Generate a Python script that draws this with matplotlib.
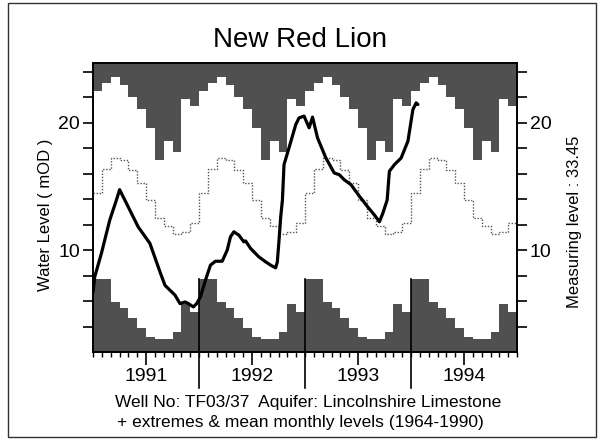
import numpy as np
import matplotlib
matplotlib.use('Agg')
import matplotlib.pyplot as plt
from matplotlib.transforms import blended_transform_factory
from matplotlib.patches import Rectangle

plt.rcParams['font.family'] = ['Liberation Sans', 'DejaVu Sans']

# ---- data ----
years = [1991, 1992, 1993, 1994]
year_labels = ['1991', '1992', '1993', '1994']
# climatology 1964-1990 (Jan..Dec)
month_max = [22.5, 23.1, 23.6, 23.0, 22.0, 21.1, 19.6, 17.05, 18.55, 17.7, 21.85, 21.35]
month_min = [7.7, 7.7, 5.9, 5.45, 4.7, 3.85, 3.2, 3.0, 3.0, 3.55, 5.8, 5.15]
month_mean = [14.5, 16.4, 17.2, 17.1, 16.3, 15.3, 13.9, 12.5, 11.9, 11.3, 11.4, 12.1]
# observed water level (decimal year, mOD)
level_t = [1991.000, 1991.016, 1991.079, 1991.158, 1991.221, 1991.251, 1991.300, 1991.426,
           1991.537, 1991.632, 1991.679, 1991.774, 1991.821, 1991.868, 1991.900, 1991.947,
           1991.978, 1992.013, 1992.061, 1992.108, 1992.155, 1992.219, 1992.266, 1992.297,
           1992.329, 1992.376, 1992.423, 1992.439, 1992.487, 1992.565, 1992.629, 1992.676,
           1992.723, 1992.739, 1992.755, 1992.771, 1992.787, 1992.802, 1992.849, 1992.913,
           1992.944, 1992.991, 1993.039, 1993.071, 1993.118, 1993.197, 1993.276, 1993.323,
           1993.370, 1993.434, 1993.512, 1993.592, 1993.655, 1993.702, 1993.734, 1993.775,
           1993.796, 1993.844, 1993.907, 1993.971, 1994.018, 1994.049, 1994.065]
level_v = [6.69, 7.90, 9.74, 12.36, 13.94, 14.75, 13.94, 11.83,
           10.53, 8.29, 7.24, 6.46, 5.80, 5.93, 5.80, 5.54,
           5.80, 6.32, 7.64, 8.82, 9.13, 9.13, 10.00, 11.05,
           11.44, 11.18, 10.65, 10.73, 10.13, 9.47, 9.08, 8.82,
           8.61, 9.08, 10.79, 12.62, 13.94, 16.72, 18.03, 19.87,
           20.39, 20.53, 19.61, 20.45, 18.82, 17.24, 16.06, 15.93,
           15.53, 15.14, 14.25, 13.39, 12.76, 12.23, 12.89, 13.94,
           16.20, 16.72, 17.24, 18.56, 21.05, 21.57, 21.44]

YMIN, YMAX = 2.0, 24.7
W, H = 603, 440

fig = plt.figure(figsize=(W / 100, H / 100), dpi=100)
ax = fig.add_axes([93 / W, 1 - 352 / H, (517 - 93) / W, (352 - 63) / H])

nyears = len(years)
edges = years[0] + np.arange(12 * nyears + 1) / 12.0
mx = np.tile(month_max, nyears)
mn = np.tile(month_min, nyears)
me = np.tile(month_mean, nyears)
mx = np.append(mx, mx[-1])
mn = np.append(mn, mn[-1])
me = np.append(me, me[-1])

shade = '#505050'
ax.fill_between(edges, mx, YMAX + 5, step='post', color=shade, lw=0)
ax.fill_between(edges, YMIN - 5, mn, step='post', color=shade, lw=0)
ax.step(edges, me, where='post', color='#555555', lw=1.0, linestyle=(0, (1, 1.2)))
ax.plot(level_t, level_v, color='black', lw=2.3, solid_joinstyle='round', solid_capstyle='round')

ax.set_xlim(years[0], years[-1] + 1)
ax.set_ylim(YMIN, YMAX)

# year separators
trans = blended_transform_factory(ax.transData, ax.transAxes)
for yr in years[1:]:
    ax.plot([yr, yr], [-0.125, (month_min[0] - YMIN) / (YMAX - YMIN)], transform=trans,
            clip_on=False, color='black', lw=1.2)

# x ticks
ax.set_xticks([y + 0.5 for y in years])
ax.set_xticklabels(year_labels, fontsize=14)
ax.set_xticks(edges, minor=True)
ax.tick_params(axis='x', which='major', length=9.5, width=1.2, pad=2, direction='out')
ax.tick_params(axis='x', which='minor', length=3.8, width=1.0, direction='out')

# y ticks
ax.set_yticks([10, 20])
ax.set_yticks(np.arange(4, 25, 2), minor=True)
ax.tick_params(axis='y', which='both', length=7.2, width=1.2, direction='out',
               left=True, right=True, labelleft=True, labelright=True, labelsize=14, pad=2)

for s in ax.spines.values():
    s.set_linewidth(1.4)

fig.text(300 / W, 1 - 40 / H, 'New Red Lion', ha='center', va='center', fontsize=20)
fig.text(46 / W, 1 - 215 / H, 'Water Level ( mOD )', rotation=90, ha='center', va='center', fontsize=12)
fig.text(575 / W, 1 - 222 / H, 'Measuring level : 33.45', rotation=90, ha='center', va='center', fontsize=12)
fig.text(308 / W, 1 - 402 / H, 'Well No: TF03/37  Aquifer: Lincolnshire Limestone',
         ha='center', va='center', fontsize=12.5)
fig.text(300 / W, 1 - 422 / H, '+ extremes & mean monthly levels (1964-1990)',
         ha='center', va='center', fontsize=12.5)

fig.add_artist(Rectangle((8 / W, 3 / H), (596 - 8) / W, (437 - 3) / H, transform=fig.transFigure,
                         fill=False, edgecolor='#333333', lw=1.0))

fig.savefig('out.png', dpi=100)
